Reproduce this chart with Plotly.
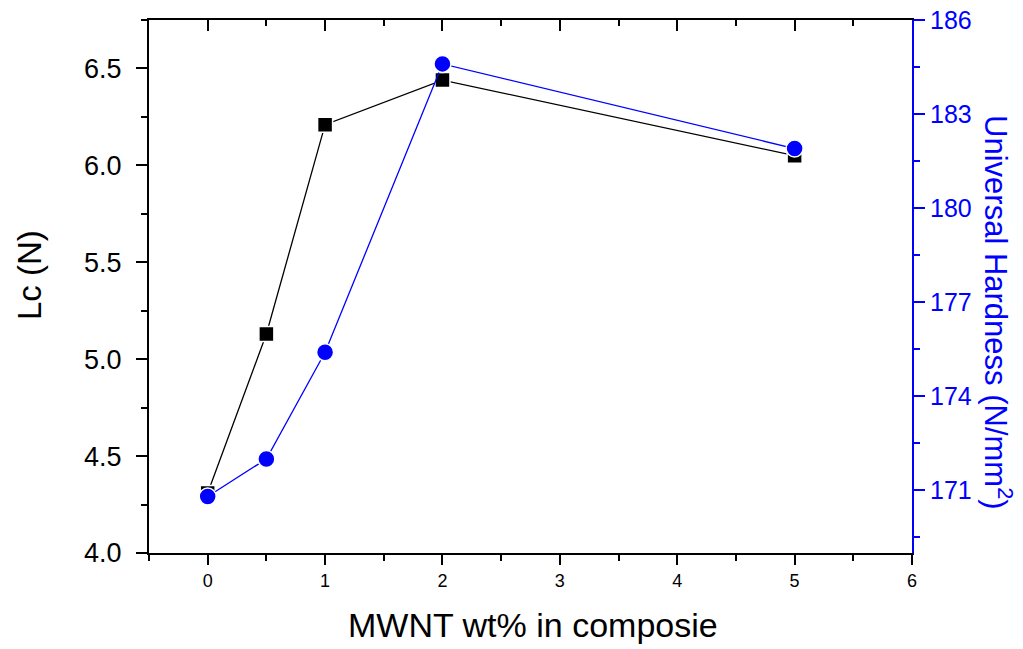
import plotly.graph_objects as go

x_wt = [0, 0.5, 1, 2, 5]
lc_values = [4.31, 5.13, 6.21, 6.44, 6.05]
hardness_values = [170.8, 172.0, 175.4, 184.6, 181.9]

x_title = "MWNT wt% in composie"
y_left_title = "Lc (N)"
y_right_title = "Universal Hardness (N/mm<sup>2</sup>)"

FONT = "Arial, Liberation Sans, sans-serif"
BLUE = "#0000FF"

fig = go.Figure()
fig.add_trace(go.Scatter(
    x=x_wt, y=lc_values, mode="lines+markers", xaxis="x", yaxis="y",
    line=dict(color="black", width=1.3),
    marker=dict(symbol="square", size=15, color="black", line=dict(color="white", width=1.5)),
    showlegend=False))
fig.add_trace(go.Scatter(
    x=x_wt, y=hardness_values, mode="lines+markers", xaxis="x", yaxis="y2",
    line=dict(color=BLUE, width=1.3),
    marker=dict(symbol="circle", size=17, color=BLUE, line=dict(color="white", width=1.5)),
    showlegend=False))
# invisible trace so that the top (mirror) axis is drawn
fig.add_trace(go.Scatter(
    x=x_wt, y=lc_values, mode="markers", xaxis="x2", yaxis="y",
    marker=dict(opacity=0), hoverinfo="skip", showlegend=False))

fig.update_layout(
    width=1023, height=649,
    margin=dict(l=149, r=111, t=20, b=96),
    plot_bgcolor="white", paper_bgcolor="white",
    font=dict(family=FONT, color="black"),
    xaxis=dict(
        range=[-0.5, 6], dtick=1, tick0=0, showgrid=False, zeroline=False,
        showline=True, linecolor="black", linewidth=2, automargin=False,
        ticks="outside", ticklen=10, tickwidth=2, tickcolor="black",
        minor=dict(dtick=0.5, ticks="outside", ticklen=6, tickwidth=2, tickcolor="black", showgrid=False),
        tickfont=dict(size=18, family=FONT),
    ),
    xaxis2=dict(
        overlaying="x", side="top", anchor="y", range=[-0.5, 6], dtick=1, tick0=0,
        showgrid=False, zeroline=False, showticklabels=False, automargin=False,
        showline=True, linecolor="black", linewidth=2,
        ticks="inside", ticklen=11, tickwidth=2, tickcolor="black",
        minor=dict(dtick=0.5, ticks="inside", ticklen=6, tickwidth=2, tickcolor="black", showgrid=False),
    ),
    yaxis=dict(
        range=[4.0, 6.75], dtick=0.5, tick0=4.0, tickformat=".1f",
        showgrid=False, zeroline=False, automargin=False,
        showline=True, linecolor="black", linewidth=2,
        ticks="outside", ticklen=11, tickwidth=2, tickcolor="black",
        minor=dict(dtick=0.25, ticks="outside", ticklen=6, tickwidth=2, tickcolor="black", showgrid=False),
        tickfont=dict(size=27, family=FONT),
        ticklabelstandoff=9,
    ),
    yaxis2=dict(
        overlaying="y", side="right", anchor="x",
        range=[169, 186], dtick=3, tick0=171,
        showgrid=False, zeroline=False, automargin=False,
        showline=True, linecolor=BLUE, linewidth=2,
        ticks="outside", ticklen=11, tickwidth=2, tickcolor=BLUE,
        minor=dict(dtick=1.5, tick0=169.5, ticks="outside", ticklen=6, tickwidth=2, tickcolor=BLUE, showgrid=False),
        tickfont=dict(size=25, family=FONT, color=BLUE),
    ),
    annotations=[
        dict(text=y_right_title, textangle=90, xref="paper", yref="paper",
             x=1.0, xshift=86, y=0.452, showarrow=False,
             font=dict(size=31, family=FONT, color=BLUE),
             xanchor="center", yanchor="middle"),
        dict(text=y_left_title, textangle=-90, xref="paper", yref="paper",
             x=0.0, xshift=-119, y=0.5216, showarrow=False,
             font=dict(size=33, family=FONT, color="black"),
             xanchor="center", yanchor="middle"),
        dict(text=x_title, xref="paper", yref="paper",
             x=0.5, xshift=2, y=0.0, yshift=-72, showarrow=False,
             font=dict(size=34, family=FONT, color="black"),
             xanchor="center", yanchor="middle"),
    ],
)

fig.write_html("out.html",
               config={"displayModeBar": False},
               post_script="document.body.style.margin='0';document.body.style.overflow='hidden';")
